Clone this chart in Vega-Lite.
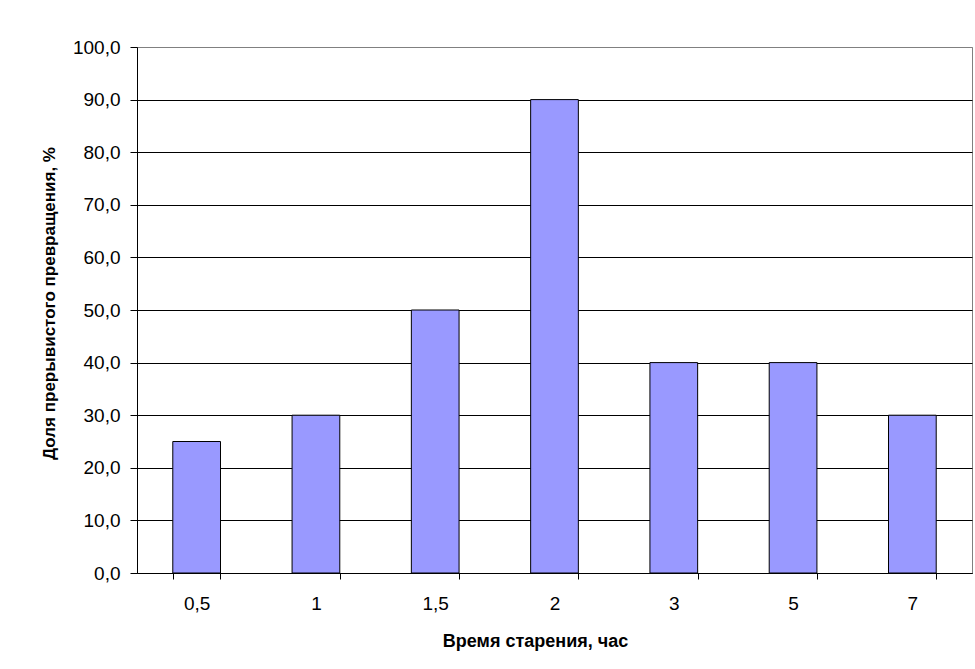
{
  "$schema": "https://vega.github.io/schema/vega-lite/v6.json",
  "width": 835,
  "height": 526,
  "autosize": {"type": "none"},
  "padding": {"left": 137, "top": 47, "right": 3, "bottom": 96},
  "background": "white",
  "config": {
    "font": "Liberation Sans",
    "view": {"stroke": "#808080", "strokeWidth": 1}
  },
  "data": {
    "values": [
      {"t": "0,5", "p": 25},
      {"t": "1", "p": 30},
      {"t": "1,5", "p": 50},
      {"t": "2", "p": 90},
      {"t": "3", "p": 40},
      {"t": "5", "p": 40},
      {"t": "7", "p": 30}
    ]
  },
  "mark": {"type": "bar", "color": "#9999FF", "stroke": "black", "strokeWidth": 1},
  "encoding": {
    "x": {
      "field": "t",
      "type": "ordinal",
      "sort": null,
      "scale": {"paddingInner": 0.6, "paddingOuter": 0.3},
      "axis": {
        "title": "Время старения, час",
        "titleFont": "Liberation Sans",
        "titleFontSize": 18,
        "titleFontWeight": "bold",
        "titleColor": "black",
        "titlePadding": 19,
        "titleX": 398,
        "labelAngle": 0,
        "labelFont": "Liberation Sans",
        "labelFontSize": 19,
        "labelColor": "black",
        "labelPadding": 15,
        "tickBand": "extent",
        "tickSize": 6,
        "tickColor": "black",
        "domainColor": "black",
        "grid": false
      }
    },
    "y": {
      "field": "p",
      "type": "quantitative",
      "scale": {"domain": [0, 100], "nice": false},
      "axis": {
        "title": "Доля прерывистого превращения, %",
        "titleFont": "Liberation Sans",
        "titleFontSize": 17,
        "titleFontWeight": "bold",
        "titleColor": "black",
        "titlePadding": 14,
        "titleY": 256,
        "values": [0, 10, 20, 30, 40, 50, 60, 70, 80, 90, 100],
        "labelExpr": "replace(format(datum.value, '.1f'), '.', ',')",
        "labelFont": "Liberation Sans",
        "labelFontSize": 19,
        "labelColor": "black",
        "labelPadding": 10,
        "tickSize": 7,
        "tickColor": "black",
        "domainColor": "black",
        "grid": true,
        "gridColor": {"condition": {"test": "datum.value == 100", "value": "#808080"}, "value": "black"},
        "gridWidth": 1,
        "gridOpacity": 1
      }
    }
  }
}
